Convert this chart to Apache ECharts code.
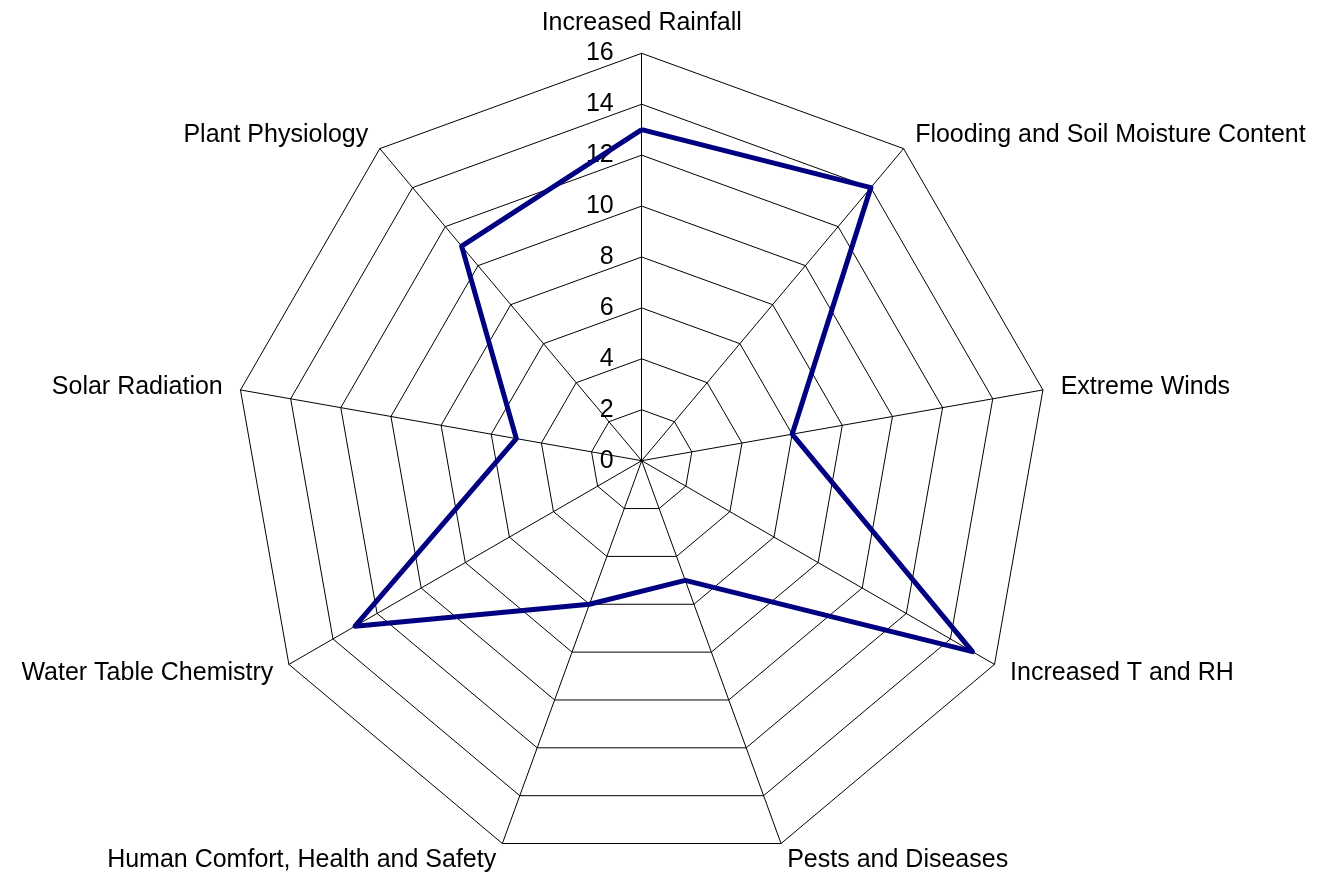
<!DOCTYPE html>
<html>
<head>
<meta charset="utf-8">
<script src="https://cdn.jsdelivr.net/npm/echarts@6/dist/echarts.min.js"></script>
<style>
html,body{margin:0;padding:0;background:#fff;}
#chart{width:1317px;height:872px;}
</style>
</head>
<body>
<div id="chart"></div>
<script>
// Categories in clockwise order starting at the top
var categories = [
  'Increased Rainfall',
  'Flooding and Soil Moisture Content',
  'Extreme Winds',
  'Increased T and RH',
  'Pests and Diseases',
  'Human Comfort, Health and Safety',
  'Water Table Chemistry',
  'Solar Radiation',
  'Plant Physiology'
];
var values = [13, 14, 6, 15, 5, 6, 13, 5, 11];
var axisMax = 16;
var axisInterval = 2;

// ECharts radar lays indicators counter-clockwise; reorder to get clockwise
var order = [0];
for (var i = categories.length - 1; i >= 1; i--) order.push(i);

var indicators = order.map(function (idx, k) {
  var ind = { name: categories[idx], min: 0, max: axisMax };
  if (k === 0) {
    ind.axisLabel = { show: true };
  }
  return ind;
});
var seriesData = order.map(function (idx) { return values[idx]; });

var chart = echarts.init(document.getElementById('chart'));
chart.setOption({
  animation: false,
  backgroundColor: '#ffffff',
  radar: {
    center: [641.7, 460.7],
    radius: 407.4,
    startAngle: 90,
    shape: 'polygon',
    splitNumber: axisMax / axisInterval,
    indicator: indicators,
    axisName: {
      color: '#000000',
      fontFamily: 'Liberation Sans, Arial, sans-serif',
      fontSize: 25
    },
    nameGap: 18,
    axisLine: { show: true, lineStyle: { color: '#000000', width: 1 } },
    splitLine: { show: true, lineStyle: { color: '#000000', width: 1 } },
    splitArea: { show: false },
    axisTick: { show: false },
    axisLabel: {
      show: false,
      color: '#000000',
      fontFamily: 'Liberation Sans, Arial, sans-serif',
      fontSize: 25,
      margin: 28
    }
  },
  series: [{
    type: 'radar',
    symbol: 'none',
    lineStyle: { color: '#000080', width: 5 },
    itemStyle: { color: '#000080' },
    data: [{ value: seriesData, name: 'Series 1' }]
  }]
});
</script>
</body>
</html>
